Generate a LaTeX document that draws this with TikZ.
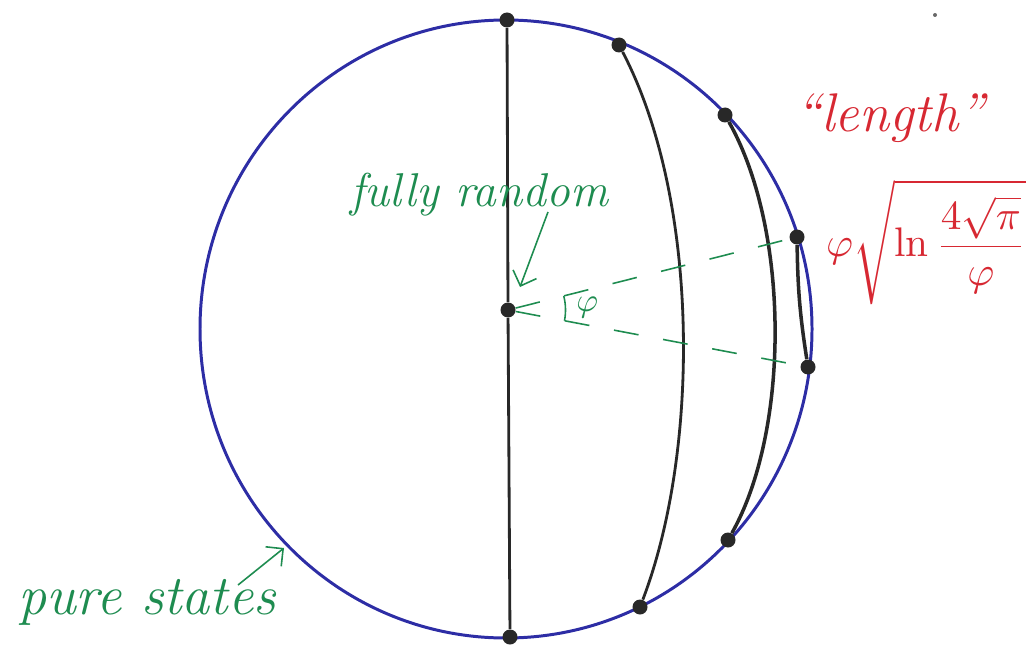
\documentclass[tikz,border=0pt]{standalone}
\usepackage{fontspec}
\usetikzlibrary{arrows.meta,angles}
\definecolor{penblue}{RGB}{45,45,165}
\definecolor{pengreen}{RGB}{30,140,80}
\definecolor{penred}{RGB}{215,40,50}
\definecolor{penblack}{RGB}{40,40,40}
\begin{document}
\begin{tikzpicture}[
        x=0.02cm, y=-0.02cm,
        sphere/.style={draw=penblue, line width=1.7pt},
        geo/.style={draw=penblack, line width=1.6pt},
        dot/.style={circle, fill=penblack, inner sep=0pt, minimum size=0.3cm},
        hand/.style={font=\itshape\fontsize{#1}{#1}\selectfont, inner sep=1pt},
        greenlab/.style={hand=#1, text=pengreen},
        redlab/.style={hand=#1, text=penred},
        pointer/.style={draw=pengreen, line width=0.9pt, -{Straight Barb[length=0.25cm]}},
        guide/.style={draw=pengreen, line width=0.9pt, dash pattern=on 0.5cm off 0.5cm}
    ]
    \useasboundingbox (0,0) rectangle (1030,645);
    % the sphere of states
    \draw[sphere] (506,329) ellipse [x radius=306, y radius=309];
    % points on the geodesics
    \node[dot] (t1) at (507,20) {};
    \node[dot] (b1) at (510,637) {};
    \node[dot] (c) at (508,310) {};
    \node[dot] (t2) at (619,45) {};
    \node[dot] (b2) at (640,607) {};
    \node[dot] (t3) at (725,115) {};
    \node[dot] (b3) at (728,540) {};
    \node[dot] (p1) at (797,237) {};
    \node[dot] (p2) at (808,367) {};
    \draw[geo] (t1) -- (c) -- (b1);
    \draw[geo] (t2) .. controls (700,200) and (700,450) .. (b2);
    \draw[geo, line width=2pt] (t3) .. controls (790,230) and (790,430) .. (b3);
    \draw[geo, line width=2pt] (p1) to[bend right=4] (p2);
    % opening angle
    \draw[guide] (c) -- (p1);
    \draw[guide] (c) -- (p2);
    \pic[draw=pengreen, line width=0.9pt, angle radius=1.15cm, angle eccentricity=1.38,
         pic text={\textcolor{pengreen}{\scalebox{1.9}{$\varphi$}}}] {angle=p2--c--p1};
    % labels
    \node[text=penred, scale=2.8] (pi) at (470,311) {$\mathbf{\Pi}$};
    \node[greenlab=27] (fr) at (479,195) {fully random};
    \coordinate (frtip) at (520,287);
    \draw[pointer] (548,212) -- (frtip);
    \node[greenlab=32] (ps) at (147,602) {pure states};
    \coordinate (pstip) at (284,548);
    \draw[pointer] (238,585) -- (pstip);
    \node[redlab=31] (len) at (890,118) {``length''};
    \node[text=penred, scale=2.35, inner sep=0pt] (form) at (926,242)
        {$\varphi\sqrt{\ln\displaystyle\frac{4\sqrt{\pi}}{\varphi}}$};
    \fill[penblack!70] (935,15) circle (2);
\end{tikzpicture}
\end{document}
